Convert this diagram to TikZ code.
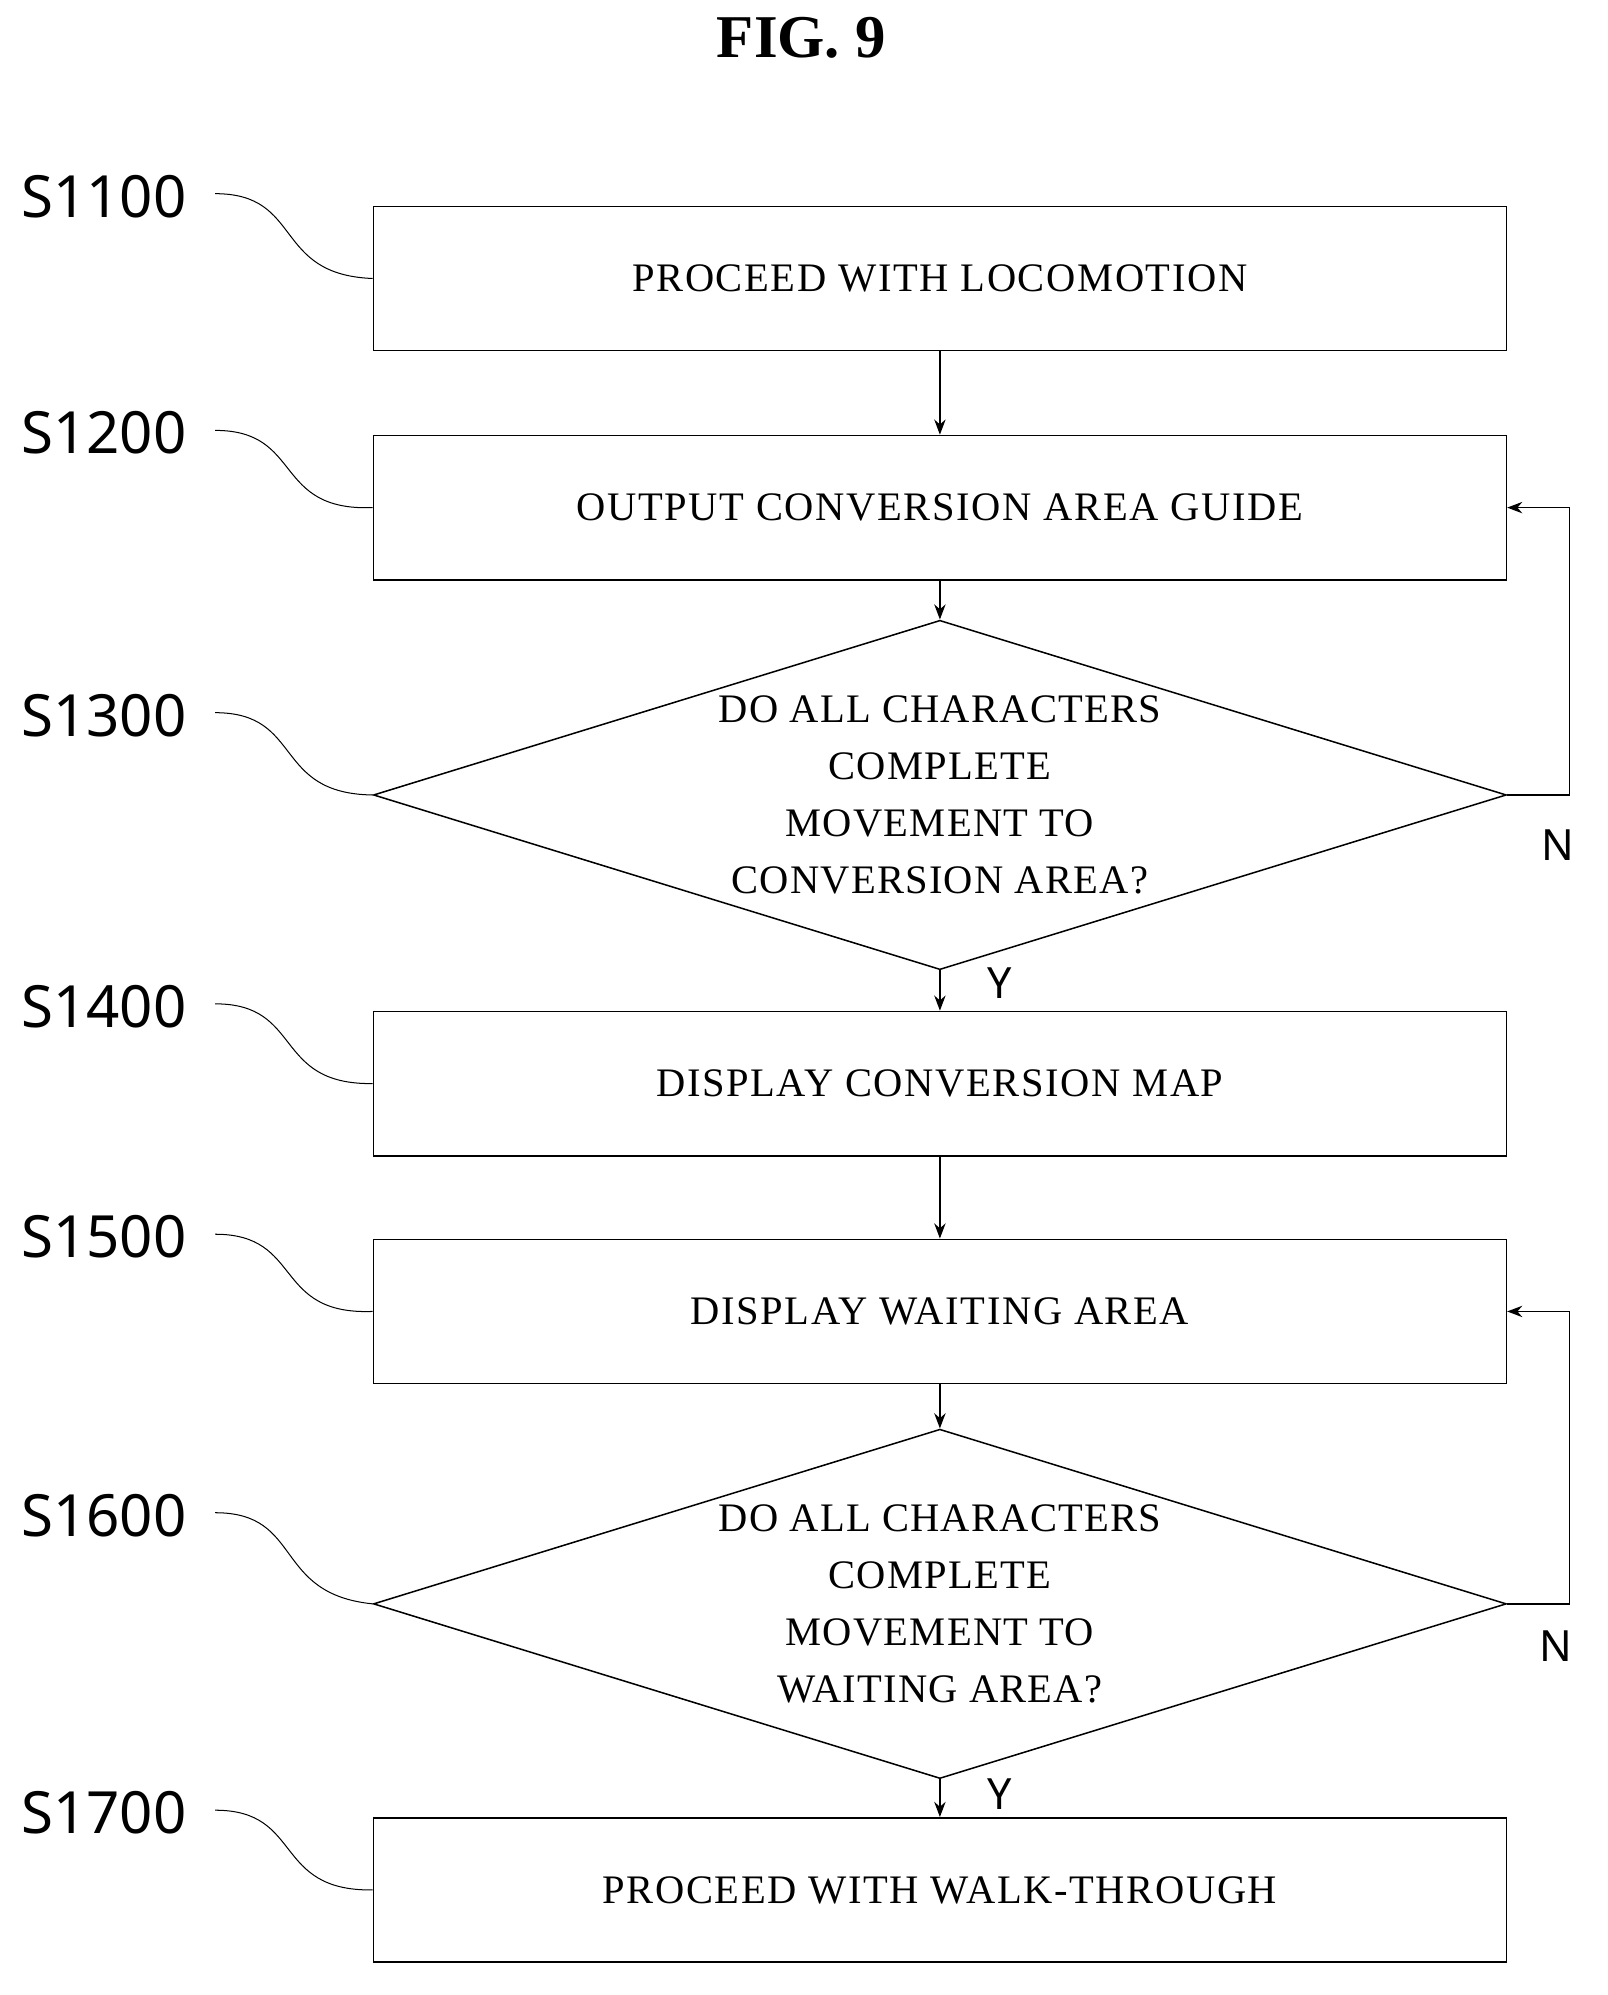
\documentclass[tikz,border=0pt]{standalone}
\usepackage{fontspec}
\setmainfont{Liberation Serif}
\newfontfamily\lab{Noto Sans}
\usetikzlibrary{shapes.geometric,arrows.meta}
\begin{document}
\begin{tikzpicture}[x=1pt,y=-1pt,
  box/.style={draw,line width=1.2pt,minimum width=895pt,minimum height=114pt,font=\fontsize{32}{36}\selectfont\addfontfeature{LetterSpace=4}},
  dia/.style={draw,line width=1.2pt,diamond,minimum width=895pt,minimum height=276pt,aspect=3.24,inner sep=0pt,align=center,font=\fontsize{32}{45}\selectfont\addfontfeature{LetterSpace=3}},
  ar/.style={line width=1.2pt,-{Stealth[length=12pt,width=9pt]}},
  lb/.style={font=\lab\fontsize{46}{50}\selectfont},
  yn/.style={font=\lab\fontsize{34}{36}\selectfont},
  cv/.style={line width=0.8pt}]
\useasboundingbox (0,0) rectangle (1270,1576);
\node[font=\bfseries\fontsize{48}{50}\selectfont] (t) at (633,30) {FIG. 9};
\node[box] (b1) at (742.5,220) {PROCEED WITH LOCOMOTION};
\node[box] (b2) at (742.5,401) {OUTPUT CONVERSION AREA GUIDE};
\node[dia] (d1) at (742.5,628) {DO ALL CHARACTERS\\COMPLETE\\MOVEMENT TO\\CONVERSION AREA?};
\node[box] (b3) at (742.5,856) {DISPLAY CONVERSION MAP};
\node[box] (b4) at (742.5,1036) {DISPLAY WAITING AREA};
\node[dia] (d2) at (742.5,1267) {DO ALL CHARACTERS\\COMPLETE\\MOVEMENT TO\\WAITING AREA?};
\node[box] (b5) at (742.5,1493) {PROCEED WITH WALK-THROUGH};
\draw[ar] (b1) -- (b2);
\draw[ar] (b2) -- (d1.north);
\draw[ar] (d1.south) -- (b3);
\draw[ar] (b3) -- (b4);
\draw[ar] (b4) -- (d2.north);
\draw[ar] (d2.south) -- (b5);
\coordinate (r1) at (1240,628);
\coordinate (r2) at (1240,1267);
\draw[ar] (d1.east) -- (r1) |- (b2.east);
\draw[ar] (d2.east) -- (r2) |- (b4.east);
\node[yn] (n1) at (1231,668) {N};
\node[yn] (n2) at (1229,1300) {N};
\node[yn] (y1) at (790,777) {Y};
\node[yn] (y2) at (790,1417) {Y};
\node[lb] (L1) at (82,155) {S1100};
\node[lb] (L2) at (82,342) {S1200};
\node[lb] (L3) at (82,565) {S1300};
\node[lb] (L4) at (82,795) {S1400};
\node[lb] (L5) at (82,977) {S1500};
\node[lb] (L6) at (82,1197) {S1600};
\node[lb] (L7) at (82,1432) {S1700};
\foreach \y/\t in {155/b1.west,342/b2.west,565/d1.west,795/b3.west,977/b4.west,1197/d2.west,1432/b5.west}{
  \draw[cv] (170,\y-2) .. controls (240,\y-2) and (215,\y+62) .. (\t);
}
\end{tikzpicture}
\end{document}
